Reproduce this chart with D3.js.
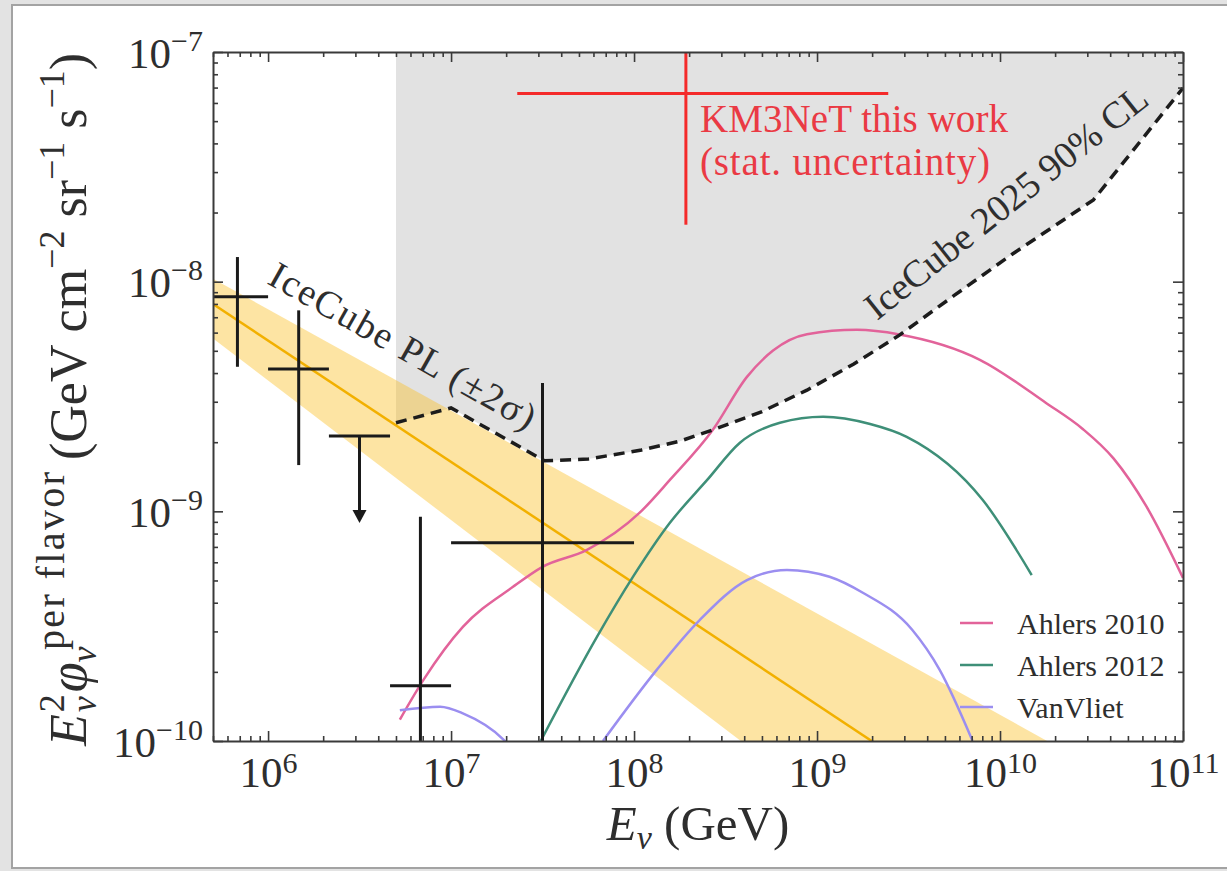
<!DOCTYPE html>
<html>
<head>
<meta charset="utf-8">
<script src="https://cdn.jsdelivr.net/npm/d3@7"></script>
<style>
  html, body { margin: 0; padding: 0; background: #e3e3e3; }
  svg { display: block; }
</style>
</head>
<body>
<svg id="chart" width="1227" height="871"></svg>
<script>
// ---- data ----
const xDomain = [5e5, 1e11];
const yDomain = [1e-10, 1e-7];
const xMajor = [1e6, 1e7, 1e8, 1e9, 1e10, 1e11];
const xMajorExp = ["6", "7", "8", "9", "10", "11"];
const yMajor = [1e-10, 1e-9, 1e-8, 1e-7];
const yMajorExp = ["\u221210", "\u22129", "\u22128", "\u22127"];

// IceCube data points (E bins, flux with errors)
const icE   = [6.8e5, 1.47e6, 6.8e6, 3.16e7];
const icELo = [4.64e5, 1.0e6, 4.64e6, 1.0e7];
const icEHi = [1.0e6, 2.15e6, 1.0e7, 1.0e8];
const icF   = [8.6e-9, 4.17e-9, 1.74e-10, 7.3e-10];
const icFLo = [4.26e-9, 1.59e-9, 5e-11, 5e-11];
const icFHi = [1.28e-8, 7.5e-9, 9.46e-10, 3.62e-9];

// IceCube upper limit
const ulE = [3.16e6];
const ulELo = [2.15e6];
const ulEHi = [4.64e6];
const ulF = [2.13e-9];
const ulArrowTo = [8.9e-10];

// KM3NeT event
const kmE = [1.92e8];
const kmELo = [2.3e7];
const kmEHi = [2.45e9];
const kmF = [6.6e-8];
const kmFLo = [1.77e-8];
const kmFHi = [1.3e-7];

// IceCube power law band (+-2 sigma)
const plE = [5e5, 1e11];
const plCenter = [8.0e-9, 1.26e-11];
const plUpper = [1.03e-8, 4.7e-11];
const plLower = [5.66e-9, 3.4e-12];

// IceCube 2025 90% CL limit
const limE = [5e6, 1e7, 3.24e7, 5.62e7, 1.1e8, 1.78e8, 2.69e8, 5.01e8, 8.81e8, 1.58e9, 2.82e9, 5.62e9, 1.17e10, 3.24e10, 1e11];
const limF = [2.43e-9, 2.82e-9, 1.66e-9, 1.69e-9, 1.85e-9, 2.02e-9, 2.26e-9, 2.72e-9, 3.37e-9, 4.37e-9, 5.85e-9, 8.71e-9, 1.32e-8, 2.27e-8, 6.97e-8];

// models
const a10E = [5.25e6, 7.08e6, 1.16e7, 2.18e7, 3.16e7, 5.53e7, 1.07e8, 1.57e8, 2.69e8, 4.14e8, 5.75e8, 8.81e8, 1.65e9, 2.82e9, 7.76e9, 1.8e10, 2.82e10, 4.17e10, 6.31e10, 1e11];
const a10F = [1.24e-10, 1.85e-10, 3.14e-10, 4.69e-10, 5.73e-10, 6.79e-10, 9.84e-10, 1.37e-9, 2.26e-9, 3.85e-9, 5.01e-9, 5.9e-9, 6.17e-9, 5.89e-9, 4.57e-9, 2.95e-9, 2.29e-9, 1.7e-9, 1.05e-9, 5.13e-10];
const a12E = [3.09e7, 6.27e7, 9.86e7, 1.57e8, 2.51e8, 3.79e8, 6.27e8, 1.08e9, 1.95e9, 3.09e9, 8.05e9, 1.49e10];
const a12F = [1.0e-10, 2.84e-10, 5.18e-10, 8.91e-10, 1.37e-9, 1.99e-9, 2.43e-9, 2.58e-9, 2.4e-9, 2.11e-9, 1.12e-9, 5.28e-10];
const vvE = [5.25e6, 8.71e6, 1.16e7, 1.92e7, 2.14e7, 4e7, 6.76e7, 1.33e8, 2.29e8, 4.14e8, 6.85e8, 1.17e9, 1.78e9, 3.31e9, 4.68e9, 7.08e9];
const vvF = [1.36e-10, 1.41e-10, 1.32e-10, 1.02e-10, 9.3e-11, null, 1.0e-10, 2.04e-10, 3.37e-10, 5.02e-10, 5.56e-10, 5.19e-10, 4.42e-10, 3.05e-10, 2.04e-10, 1.0e-10];

const legendNames = ["Ahlers 2010", "Ahlers 2012", "VanVliet"];
const legendColors = ["#e2639a", "#3e8f78", "#9b8ef0"];

// ---- drawing ----
const W = 1227, H = 871;
const plot = { left: 213, top: 52, right: 1183, bottom: 741 };
const serif = '"Liberation Serif", "DejaVu Serif", serif';
const ink = "#2e2e2e";

const svg = d3.select("#chart").attr("font-family", serif);

// screenshot frame
svg.append("rect").attr("width", W).attr("height", H).attr("fill", "#e3e3e3");
svg.append("rect").attr("x", 12).attr("y", 5).attr("width", W).attr("height", 863)
  .attr("fill", "#fff").attr("stroke", "#a3a3a3").attr("stroke-width", 2);

const x = d3.scaleLog().domain(xDomain).range([plot.left, plot.right]);
const y = d3.scaleLog().domain(yDomain).range([plot.bottom, plot.top]);

svg.append("clipPath").attr("id", "clip").append("rect")
  .attr("x", plot.left).attr("y", plot.top)
  .attr("width", plot.right - plot.left).attr("height", plot.bottom - plot.top);
const g = svg.append("g").attr("clip-path", "url(#clip)");

const zip = (xs, ys) => xs.map((v, i) => [v, ys[i]]);
const line = d3.line().defined(d => d[1] != null).x(d => x(d[0])).y(d => y(d[1]));
const smooth = d3.line().defined(d => d[1] != null).x(d => x(d[0])).y(d => y(d[1]))
  .curve(d3.curveMonotoneX);

// region excluded by IceCube 2025
g.append("path").datum(zip(limE, limF))
  .attr("d", d3.area().x(d => x(d[0])).y0(d => y(d[1])).y1(y(yDomain[1])))
  .attr("fill", "#e2e2e2");

// power-law band
g.append("path").datum(plE.map((e, i) => [e, plLower[i], plUpper[i]]))
  .attr("d", d3.area().x(d => x(d[0])).y0(d => y(d[1])).y1(d => y(d[2])))
  .attr("fill", "#fbbf24").attr("fill-opacity", 0.42);
g.append("path").datum(zip(plE, plCenter)).attr("d", line)
  .attr("fill", "none").attr("stroke", "#f2b000").attr("stroke-width", 2.5);

// model curves
[[a10E, a10F], [a12E, a12F], [vvE, vvF]].forEach(([es, fs], i) => {
  g.append("path").datum(zip(es, fs)).attr("d", smooth)
    .attr("fill", "none").attr("stroke", legendColors[i]).attr("stroke-width", 2.5);
});

// IceCube 2025 limit
g.append("path").datum(zip(limE, limF)).attr("d", line)
  .attr("fill", "none").attr("stroke", "#1c1c1c").attr("stroke-width", 3.5)
  .attr("stroke-dasharray", "11 7");

// data points
const bars = g.append("g").attr("stroke", "#1a1a1a").attr("stroke-width", 3);
icE.forEach((e, i) => {
  bars.append("line").attr("x1", x(icELo[i])).attr("x2", x(icEHi[i]))
    .attr("y1", y(icF[i])).attr("y2", y(icF[i]));
  bars.append("line").attr("x1", x(e)).attr("x2", x(e))
    .attr("y1", y(icFLo[i])).attr("y2", y(icFHi[i]));
});
ulE.forEach((e, i) => {
  const tip = y(ulArrowTo[i]);
  bars.append("line").attr("x1", x(ulELo[i])).attr("x2", x(ulEHi[i]))
    .attr("y1", y(ulF[i])).attr("y2", y(ulF[i]));
  bars.append("line").attr("x1", x(e)).attr("x2", x(e))
    .attr("y1", y(ulF[i])).attr("y2", tip - 10);
  g.append("path").attr("fill", "#1a1a1a")
    .attr("d", `M${x(e) - 7},${tip - 13}L${x(e) + 7},${tip - 13}L${x(e)},${tip}Z`);
});

// KM3NeT
const km = g.append("g").attr("stroke", "#f42a2a").attr("stroke-width", 3);
kmE.forEach((e, i) => {
  km.append("line").attr("x1", x(kmELo[i])).attr("x2", x(kmEHi[i]))
    .attr("y1", y(kmF[i])).attr("y2", y(kmF[i]));
  km.append("line").attr("x1", x(e)).attr("x2", x(e))
    .attr("y1", y(kmFLo[i])).attr("y2", y(kmFHi[i]));
});

// ---- axes ----
const isMajor = t => Math.abs(Math.log10(t) - Math.round(Math.log10(t))) < 1e-6;
const xMinor = x.ticks().filter(t => !isMajor(t));
const yMinor = y.ticks().filter(t => !isMajor(t));

function drawAxis(axisFn, scale, transform, majors, minors) {
  const major = svg.append("g").attr("transform", transform)
    .call(axisFn(scale).tickValues(majors).tickSize(-10).tickSizeOuter(0).tickPadding(10));
  const minor = svg.append("g").attr("transform", transform)
    .call(axisFn(scale).tickValues(minors).tickSize(-5).tickSizeOuter(0).tickFormat(""));
  minor.select(".domain").remove();
  [major, minor].forEach(a => {
    a.attr("color", "#3a3a3a").attr("font-family", serif).attr("font-size", 43);
    a.selectAll(".tick line").attr("stroke-width", 1.6);
  });
  major.select(".domain").attr("stroke-width", 2);
  return major;
}

const xb = drawAxis(d3.axisBottom, x, `translate(0,${plot.bottom})`, xMajor, xMinor);
drawAxis(d3.axisTop, x, `translate(0,${plot.top})`, xMajor, xMinor).selectAll(".tick text").remove();
const yl = drawAxis(d3.axisLeft, y, `translate(${plot.left},0)`, yMajor, yMinor);
drawAxis(d3.axisRight, y, `translate(${plot.right},0)`, yMajor, yMinor).selectAll(".tick text").remove();

xb.selectAll(".tick text").each(function (d, i) {
  const t = d3.select(this).text(null).attr("y", 46).attr("dy", null).attr("fill", ink);
  t.append("tspan").text("10");
  t.append("tspan").attr("dy", -14).attr("font-size", 30).text(xMajorExp[i]);
});
yl.selectAll(".tick text").each(function (d, i) {
  const t = d3.select(this).text(null).attr("y", 15).attr("dy", null).attr("fill", ink);
  t.append("tspan").text("10");
  t.append("tspan").attr("dy", -17).attr("font-size", 30).text(yMajorExp[i]);
});

// axis titles
const xt = svg.append("text").attr("x", (plot.left + plot.right) / 2).attr("y", 840)
  .attr("text-anchor", "middle").attr("font-size", 49).attr("fill", ink);
xt.append("tspan").attr("font-style", "italic").text("E");
xt.append("tspan").attr("font-style", "italic").attr("font-size", 34).attr("dy", 9).text("\u03bd");
xt.append("tspan").attr("dy", -9).text(" (GeV)");

const yt = svg.append("text")
  .attr("transform", `translate(86,746) rotate(-90)`)
  .attr("font-size", 52).attr("fill", ink);
yt.append("tspan").attr("font-style", "italic").text("E");
yt.append("tspan").attr("font-size", 36).attr("dx", 2).attr("dy", -22).text("2");
yt.append("tspan").attr("font-style", "italic").attr("font-size", 36).attr("dx", -18).attr("dy", 32).text("\u03bd");
yt.append("tspan").attr("font-style", "italic").attr("font-size", 54).attr("dx", 4).attr("dy", -10).text("\u03c6");
yt.append("tspan").attr("font-style", "italic").attr("font-size", 36).attr("dy", 10).text("\u03bd");
yt.append("tspan").attr("font-size", 40).attr("x", 96).attr("dy", -32)
  .attr("textLength", 178).attr("lengthAdjust", "spacing").text("per flavor");
yt.append("tspan").attr("x", 286).attr("dy", 22).text("(GeV cm");
yt.append("tspan").attr("font-size", 36).attr("dy", -22).text("\u22122");
yt.append("tspan").attr("dy", 22).text(" sr");
yt.append("tspan").attr("font-size", 36).attr("dy", -22).text("\u22121");
yt.append("tspan").attr("dy", 22).text(" s");
yt.append("tspan").attr("font-size", 36).attr("dy", -22).text("\u22121");
yt.append("tspan").attr("dy", 22).text(")");

// annotations
svg.append("text").attr("transform", "translate(266,283) rotate(29.5)")
  .attr("font-size", 38).attr("fill", ink)
  .attr("textLength", 300).attr("lengthAdjust", "spacing").text("IceCube PL (\u00b12\u03c3)");
svg.append("text").attr("transform", "translate(877,321) rotate(-38.5)")
  .attr("font-size", 38).attr("fill", ink)
  .attr("textLength", 350).attr("lengthAdjust", "spacing").text("IceCube 2025 90% CL");
const kmText = svg.append("text").attr("font-size", 39).attr("fill", "#ea3a44");
kmText.append("tspan").attr("x", 700).attr("y", 132)
  .attr("textLength", 308).attr("lengthAdjust", "spacing").text("KM3NeT this work");
kmText.append("tspan").attr("x", 700).attr("y", 175)
  .attr("textLength", 290).attr("lengthAdjust", "spacing").text("(stat. uncertainty)");

// legend
const leg = svg.append("g").attr("transform", "translate(960,623)");
legendNames.forEach((name, i) => {
  const row = leg.append("g").attr("transform", `translate(0,${i * 42})`);
  row.append("line").attr("x1", 0).attr("x2", 33).attr("stroke", legendColors[i]).attr("stroke-width", 2.5);
  row.append("text").attr("x", 57).attr("y", 11).attr("font-size", 30).attr("fill", ink).text(name);
});
</script>
</body>
</html>
